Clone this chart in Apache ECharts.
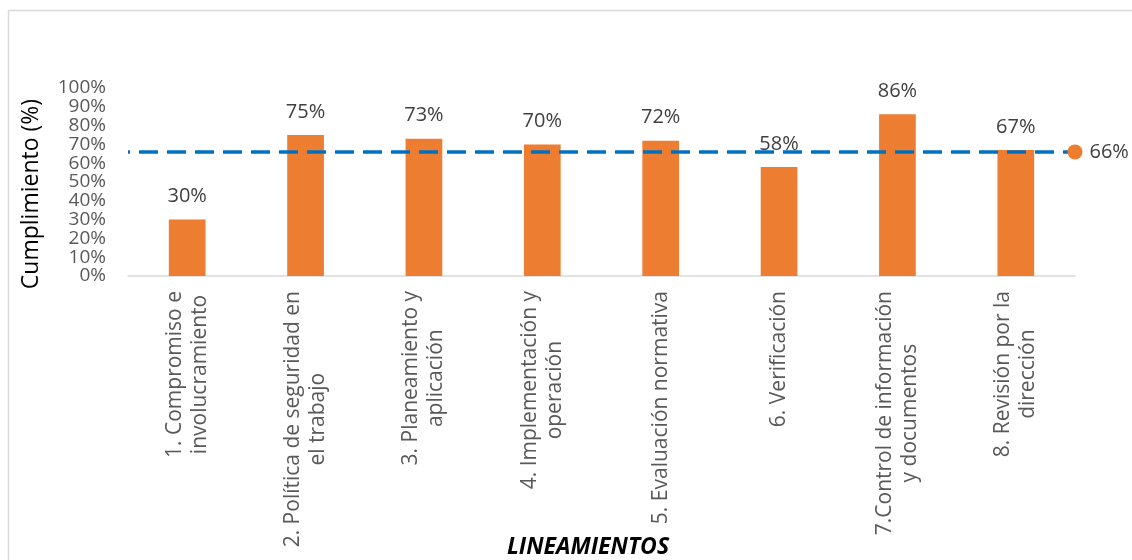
<!DOCTYPE html>
<html>
<head>
<meta charset="utf-8">
<script src="https://cdn.jsdelivr.net/npm/echarts@6/dist/echarts.min.js"></script>
<style>
  html, body { margin: 0; padding: 0; background: #ffffff; }
  #chart { width: 1132px; height: 560px; }
</style>
</head>
<body>
<div id="chart"></div>
<script>
// Lineamientos evaluados y su porcentaje de cumplimiento
const categories = [
  '1. Compromiso e\ninvolucramiento',
  '2. Política de seguridad en\nel trabajo',
  '3. Planeamiento y\naplicación',
  '4. Implementación y\noperación',
  '5. Evaluación normativa',
  '6. Verificación',
  '7.Control de información\ny documentos',
  '8. Revisión por la\ndirección'
];
const cumplimiento = [30, 75, 73, 70, 72, 58, 86, 67];
const promedio = 66;
const yTicks = [0, 10, 20, 30, 40, 50, 60, 70, 80, 90, 100];

const FONT = '"Open Sans", sans-serif';
const chart = echarts.init(document.getElementById('chart'), null, { renderer: 'canvas' });

// The value axis runs a little past 100 % so that every tick label from 0 % to 100 %
// stays visible; the extra headroom carries no label.
chart.setOption({
  animation: false,
  backgroundColor: '#ffffff',
  grid: { left: 128, right: 57, top: 78.6, bottom: 284, containLabel: false },
  graphic: [
    {
      type: 'rect',
      shape: { x: 8.5, y: 10.5, width: 1140, height: 560 },
      style: { fill: 'none', stroke: '#d9d9d9', lineWidth: 1.5 },
      silent: true
    },
    {
      type: 'text',
      x: 31, y: 194,
      rotation: Math.PI / 2,
      style: {
        text: 'Cumplimiento (%)',
        font: '23px ' + FONT,
        fill: '#000000',
        align: 'center',
        verticalAlign: 'middle'
      }
    },
    {
      type: 'text',
      x: 588, y: 547,
      style: {
        text: 'LINEAMIENTOS',
        font: 'italic bold 23px ' + FONT,
        fill: '#000000',
        align: 'center',
        verticalAlign: 'middle'
      }
    }
  ],
  xAxis: [
    {
      type: 'category',
      data: categories,
      axisLine: { lineStyle: { color: '#d9d9d9', width: 1.5 } },
      axisTick: { show: false },
      axisLabel: {
        rotate: 90,
        interval: 0,
        margin: 15,
        formatter: function (v) {
          return v.split('\n').map(function (s) { return '{c|' + s + '}'; }).join('\n');
        },
        rich: {
          c: {
            align: 'center',
            fontFamily: FONT,
            fontSize: 21,
            lineHeight: 25,
            color: '#595959'
          }
        }
      }
    },
    {
      type: 'value',
      min: 0,
      max: 100,
      show: false
    }
  ],
  yAxis: {
    type: 'value',
    min: 0,
    max: 105,
    interval: 10,
    axisLine: { show: false },
    axisTick: { show: false },
    splitLine: { show: false },
    axisLabel: {
      margin: 22,
      showMinLabel: true,
      showMaxLabel: false,
      fontFamily: FONT,
      fontSize: 19,
      lineHeight: 15,
      color: '#595959',
      formatter: function (v) { return yTicks.indexOf(v) >= 0 ? v + '%' : ''; }
    }
  },
  series: [
    {
      type: 'bar',
      xAxisIndex: 0,
      data: cumplimiento,
      barWidth: '31%',
      itemStyle: { color: '#ed7d31' },
      label: {
        show: true,
        position: 'top',
        distance: 13,
        fontFamily: FONT,
        fontSize: 20,
        color: '#404040',
        formatter: '{c}%'
      },
      z: 2
    },
    {
      type: 'line',
      xAxisIndex: 1,
      data: [
        { value: [0, promedio], symbol: 'none' },
        {
          value: [100, promedio],
          symbol: 'circle',
          symbolSize: 15,
          itemStyle: { color: '#ed7d31' },
          label: {
            show: true,
            position: 'right',
            distance: 7,
            fontFamily: FONT,
            fontSize: 20,
            color: '#404040',
            formatter: promedio + '%'
          }
        }
      ],
      lineStyle: { color: '#0070c0', width: 3.5, type: [19, 9], dashOffset: 17 },
      z: 3
    }
  ]
});
</script>
</body>
</html>
